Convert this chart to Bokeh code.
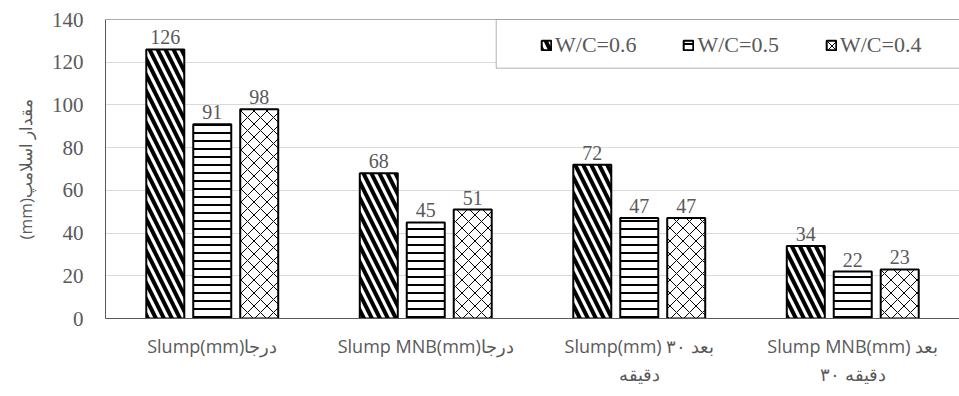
from bokeh.plotting import figure
from bokeh.models import (FactorRange, Range1d, Legend, LegendItem, Span,
                          BoxAnnotation, FixedTicker, ColumnDataSource)
from bokeh.transform import dodge
from bokeh.core.properties import value
from bokeh.embed import file_html
from bokeh.resources import INLINE

categories = ["Slump(mm)درجا", "Slump MNB(mm)درجا",
              "Slump(mm) ۳۰ بعد\nدقیقه", "Slump MNB(mm) بعد\nدقیقه ۳۰"]
series_names = ["W/C=0.6", "W/C=0.5", "W/C=0.4"]
wc06 = [126, 68, 72, 34]
wc05 = [91, 45, 47, 22]
wc04 = [98, 51, 47, 23]
y_ticks = [0, 20, 40, 60, 80, 100, 120, 140]
y_title = "(mm)مقدار اسلامپ"

GRAY = "#595959"
SERIF = "Liberation Serif"
SANS = "Open Sans"

src = ColumnDataSource(dict(cat=categories, a=wc06, b=wc05, c=wc04,
                            la=[str(v) for v in wc06],
                            lb=[str(v) for v in wc05],
                            lc=[str(v) for v in wc04]))

p = figure(width=959, height=396, x_range=FactorRange(*categories),
           y_range=Range1d(0, 140), output_backend="svg", toolbar_location=None,
           min_border_left=105, min_border_right=0, min_border_top=19,
           min_border_bottom=78)
p.outline_line_color = None
p.background_fill_color = "white"
p.border_fill_color = "white"

offsets = [-0.22, 0.0, 0.22]
cols = ["a", "b", "c"]
lcols = ["la", "lb", "lc"]
hatches = [dict(hatch_pattern="left_diagonal_line", hatch_weight=4, hatch_scale=16),
           dict(hatch_pattern="horizontal_line", hatch_weight=2, hatch_scale=8),
           dict(hatch_pattern="diagonal_cross", hatch_weight=1, hatch_scale=13)]
renderers = []
for off, col, lc, h in zip(offsets, cols, lcols, hatches):
    r = p.vbar(x=dodge("cat", off, range=p.x_range), top=col, width=0.178,
               source=src, fill_color="white", line_color="black", line_width=2,
               hatch_color="black", **h)
    renderers.append(r)
    p.text(x=dodge("cat", off, range=p.x_range), y=col, text=lc, source=src,
           text_align="center", text_baseline="bottom", y_offset=-5,
           text_font=value(SERIF), text_font_size="20px", text_color=GRAY)

# axes
p.yaxis.ticker = FixedTicker(ticks=y_ticks)
p.yaxis.axis_line_color = GRAY
p.yaxis.major_tick_line_color = None
p.yaxis.minor_tick_line_color = None
p.yaxis.major_label_text_font = SERIF
p.yaxis.major_label_text_font_size = "21px"
p.yaxis.major_label_text_color = GRAY
p.yaxis.major_label_standoff = 16
p.yaxis.axis_label = y_title
p.yaxis.axis_label_text_font = SANS
p.yaxis.axis_label_text_font_size = "17px"
p.yaxis.axis_label_text_font_style = "normal"
p.yaxis.axis_label_text_color = GRAY
p.yaxis.axis_label_standoff = 12

p.xaxis.axis_line_color = GRAY
p.xaxis.major_tick_line_color = None
p.xaxis.minor_tick_line_color = None
p.xaxis.major_label_text_font = SANS
p.xaxis.major_label_text_font_size = "18px"
p.xaxis.major_label_text_color = GRAY
p.xaxis.major_label_standoff = 9
p.xaxis.major_label_text_line_height = 1.2

p.xgrid.grid_line_color = None
p.ygrid.grid_line_color = "#d9d9d9"
p.ygrid.grid_line_width = 1

p.add_layout(Span(location=140, dimension="width", line_color=GRAY, line_width=1))

# legend frame
p.add_layout(BoxAnnotation(left=1.83, right=4.5, top=140, bottom=117.2,
                           fill_color="white", fill_alpha=1.0,
                           line_color="black", line_width=1, level="overlay"))

legend = Legend(items=[LegendItem(label=n, renderers=[r]) for n, r in zip(series_names, renderers)],
                orientation="horizontal", location=(435, 260),
                padding=0, spacing=46, glyph_width=12, glyph_height=12,
                label_standoff=3, label_text_font=SERIF, label_text_font_size="22px",
                label_text_color=GRAY, border_line_color=None,
                background_fill_alpha=0.0, margin=0)
p.add_layout(legend, "center")

open("out.html", "w").write(file_html(p, INLINE))
